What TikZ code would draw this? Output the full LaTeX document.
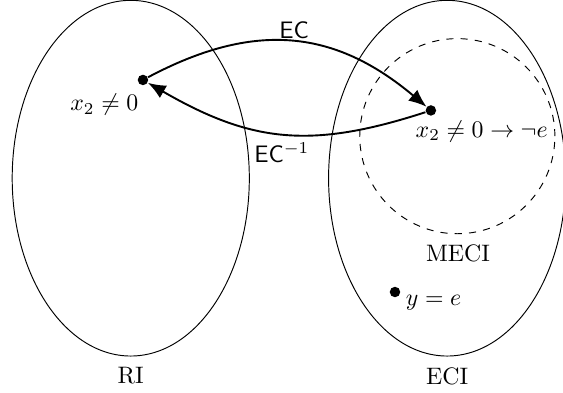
\documentclass[tikz,border=0pt]{standalone}
\usepackage{amsmath}
\usepackage{amssymb}
\usetikzlibrary{positioning,shapes,arrows.meta}

\begin{document}
\begin{tikzpicture}[
    set/.style={ellipse, draw, minimum width=3.5cm, minimum height=5.25cm},
    pt/.style={circle, fill, inner sep=0pt, minimum size=4.4pt},
    arrow/.style={-{Latex[length=7.5pt,width=6pt]}, thick}
]
\useasboundingbox (0,0) rectangle (8.31,5.79);

% Sets
\node[set] (ri) at (1.93,3.16) {};
\node[set] (eci) at (6.60,3.16) {};
\draw[dashed] (6.75,3.78) circle (1.44cm);

% Set labels
\node (rilabel) at (1.93,0.24) {RI};
\node (ecilabel) at (6.60,0.24) {ECI};
\node (mecilabel) at (6.76,2.05) {MECI};

% Points
\node[pt] (p1) at (2.11,4.61) {};
\node[pt] (p2) at (6.36,4.16) {};
\node[pt] (p3) at (5.83,1.48) {};

% Point labels
\node (p1label) at (1.54,4.24) {$x_2 \neq 0$};
\node (p2label) at (7.11,3.85) {$x_2 \neq 0 \rightarrow \neg e$};
\node (p3label) at (6.40,1.32) {$y = e$};

% Maps
\draw[arrow] (p1) to[bend left=34, looseness=1.1] (p2);
\draw[arrow] (p2) to[bend left=24, looseness=1.1] (p1);
\node (ec) at (4.34,5.34) {\textsf{EC}};
\node (ecinv) at (4.16,3.54) {\textsf{EC}$^{-1}$};

\end{tikzpicture}
\end{document}
